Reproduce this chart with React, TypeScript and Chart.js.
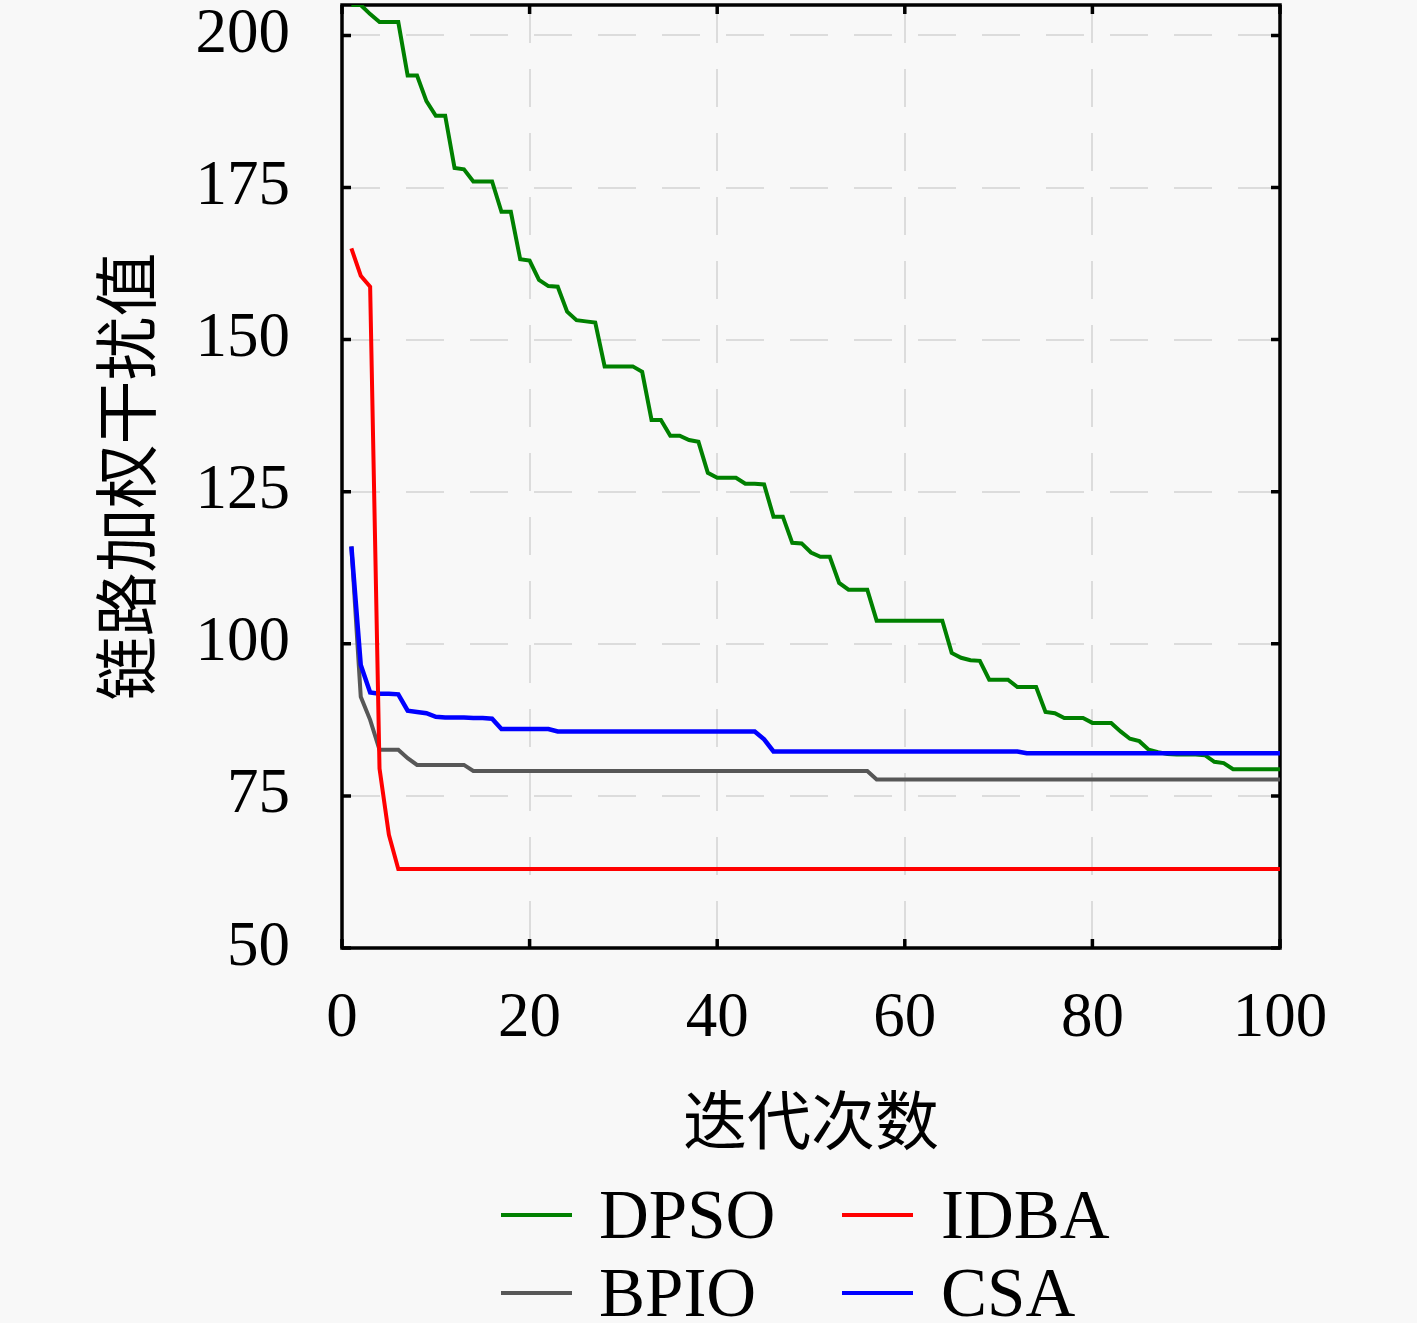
import { useEffect, useRef } from "react";
import { Chart, registerables } from "chart.js";

Chart.register(...registerables);

// x: iteration number
const iterations = Array.from({ length: 100 }, (_, i) => i + 1);

const dpsoValues = [
  205, 205, 203.5, 202.2, 202.2, 202.2, 193.4, 193.4, 189.2, 186.8,
  186.8, 178.2, 178, 176, 176, 176, 171, 171, 163.2, 163,
  159.8, 158.8, 158.7, 154.6, 153.2, 153, 152.8, 145.6, 145.6, 145.6,
  145.6, 144.7, 136.8, 136.8, 134.2, 134.2, 133.5, 133.2, 128.1, 127.3,
  127.3, 127.3, 126.3, 126.3, 126.2, 120.9, 120.9, 116.6, 116.5, 115,
  114.3, 114.3, 110, 108.9, 108.9, 108.9, 103.8, 103.8, 103.8, 103.8,
  103.8, 103.8, 103.8, 103.8, 98.5, 97.7, 97.3, 97.2, 94.1, 94.1,
  94.1, 92.9, 92.9, 92.9, 88.8, 88.6, 87.8, 87.8, 87.8, 87,
  87, 87, 85.6, 84.4, 84, 82.6, 82.2, 81.9, 81.8, 81.8,
  81.8, 81.7, 80.6, 80.4, 79.4, 79.4, 79.4, 79.4, 79.4, 79.4,
];

const idbaValues = [
  165, 160.5, 158.7, 79.5, 68.6, 63, 63, 63, 63, 63,
  63, 63, 63, 63, 63, 63, 63, 63, 63, 63,
  63, 63, 63, 63, 63, 63, 63, 63, 63, 63,
  63, 63, 63, 63, 63, 63, 63, 63, 63, 63,
  63, 63, 63, 63, 63, 63, 63, 63, 63, 63,
  63, 63, 63, 63, 63, 63, 63, 63, 63, 63,
  63, 63, 63, 63, 63, 63, 63, 63, 63, 63,
  63, 63, 63, 63, 63, 63, 63, 63, 63, 63,
  63, 63, 63, 63, 63, 63, 63, 63, 63, 63,
  63, 63, 63, 63, 63, 63, 63, 63, 63, 63,
];

const bpioValues = [
  116, 91.3, 87.5, 82.6, 82.6, 82.6, 81.2, 80.1, 80.1, 80.1,
  80.1, 80.1, 80.1, 79.1, 79.1, 79.1, 79.1, 79.1, 79.1, 79.1,
  79.1, 79.1, 79.1, 79.1, 79.1, 79.1, 79.1, 79.1, 79.1, 79.1,
  79.1, 79.1, 79.1, 79.1, 79.1, 79.1, 79.1, 79.1, 79.1, 79.1,
  79.1, 79.1, 79.1, 79.1, 79.1, 79.1, 79.1, 79.1, 79.1, 79.1,
  79.1, 79.1, 79.1, 79.1, 79.1, 79.1, 77.7, 77.7, 77.7, 77.7,
  77.7, 77.7, 77.7, 77.7, 77.7, 77.7, 77.7, 77.7, 77.7, 77.7,
  77.7, 77.7, 77.7, 77.7, 77.7, 77.7, 77.7, 77.7, 77.7, 77.7,
  77.7, 77.7, 77.7, 77.7, 77.7, 77.7, 77.7, 77.7, 77.7, 77.7,
  77.7, 77.7, 77.7, 77.7, 77.7, 77.7, 77.7, 77.7, 77.7, 77.7,
];

const csaValues = [
  116, 96.5, 92, 91.8, 91.8, 91.7, 89, 88.8, 88.6, 88,
  87.9, 87.9, 87.9, 87.8, 87.8, 87.7, 86, 86, 86, 86,
  86, 86, 85.6, 85.6, 85.6, 85.6, 85.6, 85.6, 85.6, 85.6,
  85.6, 85.6, 85.6, 85.6, 85.6, 85.6, 85.6, 85.6, 85.6, 85.6,
  85.6, 85.6, 85.6, 85.6, 84.3, 82.3, 82.3, 82.3, 82.3, 82.3,
  82.3, 82.3, 82.3, 82.3, 82.3, 82.3, 82.3, 82.3, 82.3, 82.3,
  82.3, 82.3, 82.3, 82.3, 82.3, 82.3, 82.3, 82.3, 82.3, 82.3,
  82.3, 82.3, 82, 82, 82, 82, 82, 82, 82, 82,
  82, 82, 82, 82, 82, 82, 82, 82, 82, 82,
  82, 82, 82, 82, 82, 82, 82, 82, 82, 82,
];

const xTicks = [0, 20, 40, 60, 80, 100];
const yTicks = [50, 75, 100, 125, 150, 175, 200];

const series = [
  { name: "DPSO", values: dpsoValues, color: "#008000", width: 4, order: 4 },
  { name: "BPIO", values: bpioValues, color: "#575757", width: 4, order: 3 },
  { name: "CSA", values: csaValues, color: "#0000ff", width: 4.5, order: 2 },
  { name: "IDBA", values: idbaValues, color: "#ff0000", width: 4, order: 1 },
];

// legend layout: row, column
const legendOrder = [
  ["DPSO", "IDBA"],
  ["BPIO", "CSA"],
];

const BG = "#f8f8f8";
const serif = "'Liberation Serif', 'DejaVu Serif', serif";
const cjk = "'Noto Sans CJK SC', sans-serif";

// black box with inward ticks on all four sides
const framePlugin = {
  id: "frame",
  beforeDatasetsDraw(chart: any) {
    const { ctx, chartArea, scales } = chart;
    const { left, right, top, bottom } = chartArea;
    const len = 9;
    ctx.save();
    ctx.strokeStyle = "#000";
    ctx.lineWidth = 3.5;
    ctx.beginPath();
    yTicks.forEach((v) => {
      const y = scales.y.getPixelForValue(v);
      ctx.moveTo(left, y);
      ctx.lineTo(left + len, y);
      ctx.moveTo(right, y);
      ctx.lineTo(right - len, y);
    });
    xTicks.forEach((v) => {
      const x = scales.x.getPixelForValue(v);
      ctx.moveTo(x, bottom);
      ctx.lineTo(x, bottom - len);
      ctx.moveTo(x, top);
      ctx.lineTo(x, top + len);
    });
    ctx.stroke();
    ctx.strokeRect(left, top, right - left, bottom - top);
    ctx.restore();
  },
};

export default function App() {
  const chartRef = useRef<HTMLCanvasElement>(null);
  const chartInstance = useRef<Chart | null>(null);

  useEffect(() => {
    document.body.style.margin = "0";
    document.body.style.background = BG;
    if (!chartRef.current) return;
    const ctx = chartRef.current.getContext("2d");
    if (!ctx) return;

    const grid = { color: "#dcdcdc", lineWidth: 2, drawTicks: false };

    chartInstance.current = new Chart(ctx, {
      type: "line",
      data: {
        datasets: series.map((s) => ({
          label: s.name,
          data: iterations.map((x, i) => ({ x, y: s.values[i] })),
          borderColor: s.color,
          backgroundColor: s.color,
          borderWidth: s.width,
          pointRadius: 0,
          tension: 0,
          order: s.order,
        })),
      },
      options: {
        responsive: false,
        animation: false,
        layout: { padding: { left: 0, right: 137, top: 5, bottom: 155 } },
        plugins: { legend: { display: false }, tooltip: { enabled: false } },
        scales: {
          x: {
            type: "linear",
            min: 0,
            max: 100,
            grid,
            border: { display: false, dash: [38, 26] },
            afterBuildTicks: (scale: any) => {
              scale.ticks = xTicks.map((value) => ({ value }));
            },
            afterFit: (scale: any) => {
              scale.height = 220;
              scale.paddingLeft = 0;
              scale.paddingRight = 0;
            },
            ticks: {
              color: "#000",
              padding: 34,
              maxRotation: 0,
              font: { family: serif, size: 63 },
            },
            title: {
              display: true,
              text: "迭代次数",
              color: "#000",
              padding: { top: 0, bottom: 10 },
              font: { family: cjk, size: 64 },
            },
          },
          y: {
            type: "linear",
            min: 50,
            max: 205,
            grid,
            border: { display: false, dash: [38, 26] },
            afterBuildTicks: (scale: any) => {
              scale.ticks = yTicks.map((value) => ({ value }));
            },
            afterFit: (scale: any) => {
              scale.width = 342;
              scale.paddingTop = 0;
              scale.paddingBottom = 0;
            },
            ticks: {
              color: "#000",
              padding: 52,
              font: { family: serif, size: 63 },
            },
            title: {
              display: true,
              text: "链路加权干扰值",
              color: "#000",
              padding: { top: 87, bottom: 0 },
              font: { family: cjk, size: 64 },
            },
          },
        },
      },
      plugins: [framePlugin],
    } as any);

    return () => {
      if (chartInstance.current) {
        chartInstance.current.destroy();
        chartInstance.current = null;
      }
    };
  }, []);

  const rowCenters = [1215, 1293];
  const lineLefts = [501, 842];
  const textLefts = [599, 941];

  return (
    <div style={{ position: "relative", width: 1417, height: 1323, background: BG, overflow: "hidden" }}>
      <canvas ref={chartRef} width={1417} height={1323} style={{ position: "absolute", left: 0, top: 0 }} />
      {legendOrder.map((row, r) =>
        row.map((name, c) => {
          const s = series.find((d) => d.name === name)!;
          return (
            <div key={name}>
              <div
                style={{
                  position: "absolute",
                  left: lineLefts[c],
                  top: rowCenters[r] - 2,
                  width: 71,
                  height: 4,
                  background: s.color,
                }}
              />
              <div
                style={{
                  position: "absolute",
                  left: textLefts[c],
                  top: rowCenters[r] - 40,
                  height: 80,
                  lineHeight: "80px",
                  fontFamily: serif,
                  fontSize: 69,
                  color: "#000",
                  whiteSpace: "nowrap",
                }}
              >
                {name}
              </div>
            </div>
          );
        })
      )}
    </div>
  );
}
